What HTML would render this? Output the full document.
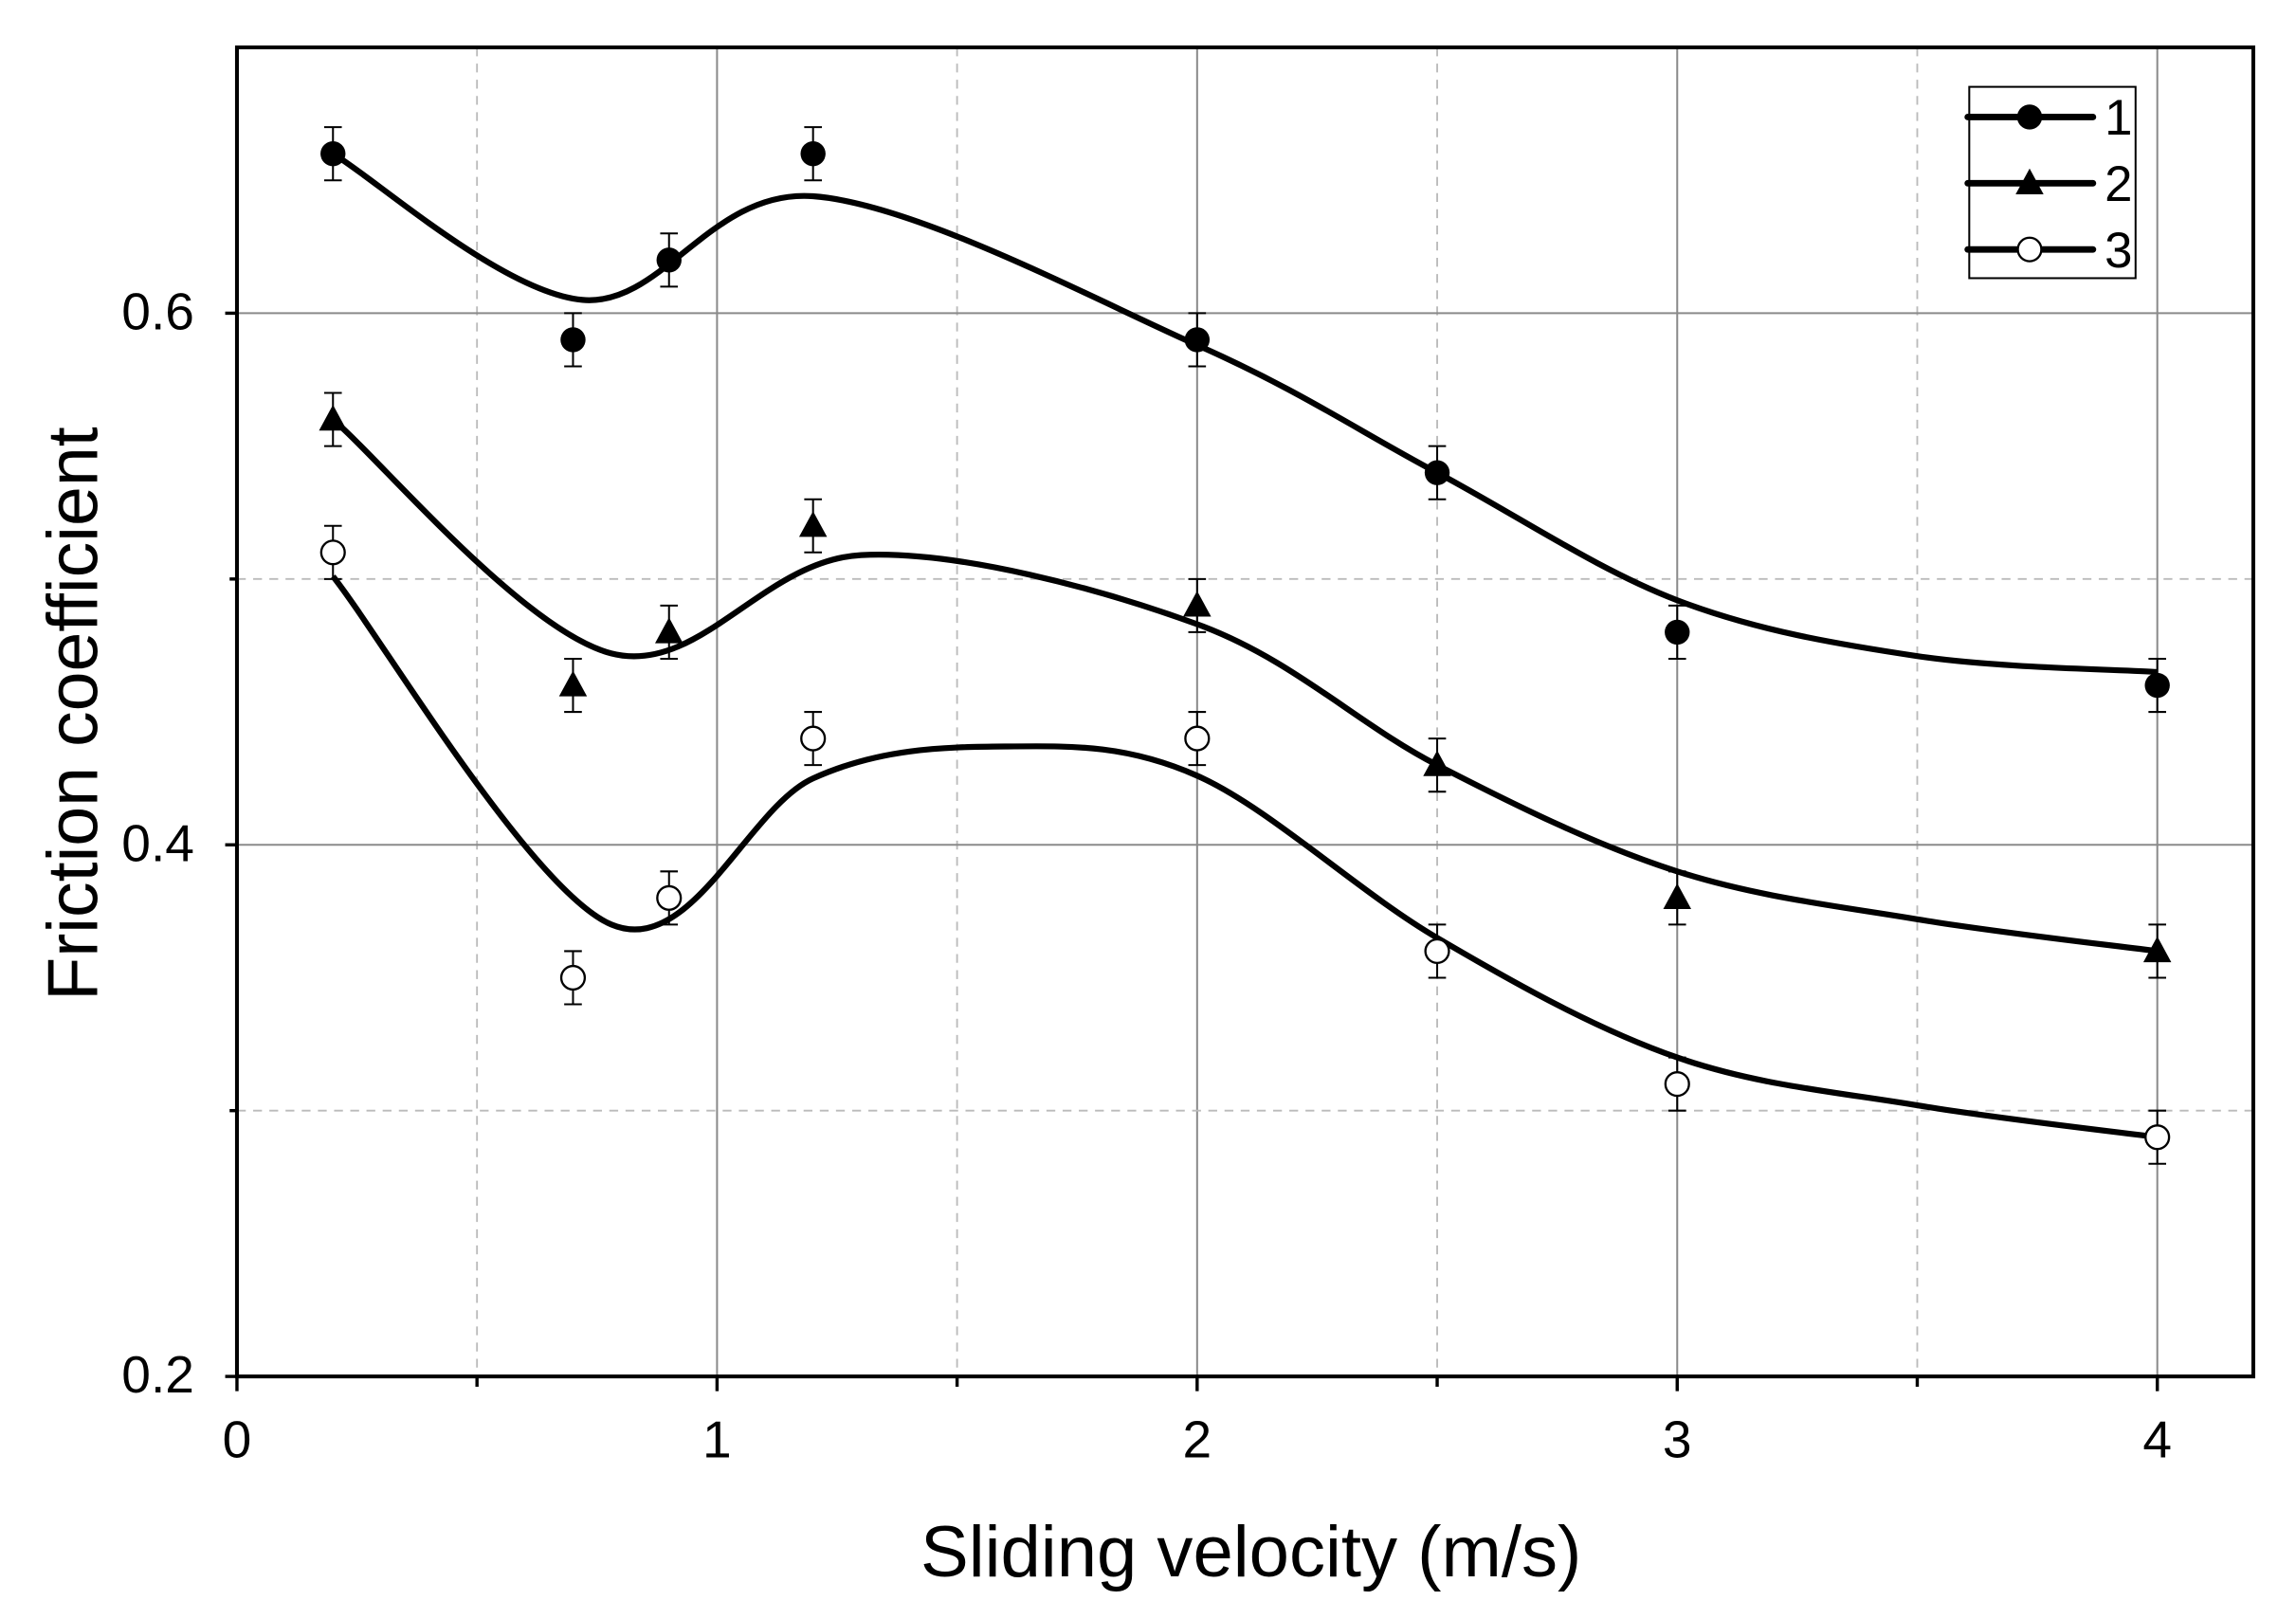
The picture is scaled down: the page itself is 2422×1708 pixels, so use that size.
<!DOCTYPE html>
<html><head><meta charset="utf-8"><style>
html,body{margin:0;padding:0;background:#fff;}
svg{display:block;font-family:"Liberation Sans",Arial,sans-serif;}
</style></head><body>
<svg id="chart" width="2422" height="1708" viewBox="0 0 1560 1100" preserveAspectRatio="none" xmlns="http://www.w3.org/2000/svg">
<g id="grid"></g>
<g id="curves"></g>
<g id="points"></g>
<g id="axes"></g>
<text x="850" y="1071" font-size="49" text-anchor="middle">Sliding velocity (m/s)</text>
<text transform="translate(66,485) rotate(-90)" font-size="48.5" text-anchor="middle">Friction coefficient</text>
<g id="legend"></g>
</svg>
<script>
const xVals = [0.2, 0.7, 0.9, 1.2, 2, 2.5, 3, 4];
const series1 = [0.66, 0.59, 0.62, 0.66, 0.59, 0.54, 0.48, 0.46];
const series2 = [0.56, 0.46, 0.48, 0.52, 0.49, 0.43, 0.38, 0.36];
const series3 = [0.51, 0.35, 0.38, 0.44, 0.44, 0.36, 0.31, 0.29];
const errVal = 0.01;
const fit1X = [0.2, 0.72, 1.2, 2, 2.5, 3, 3.5, 4];
const fit1Y = [0.66, 0.605, 0.644, 0.588, 0.54, 0.492, 0.471, 0.465];
const fit2X = [0.2, 0.78, 1.3, 2, 2.5, 3, 3.5, 4];
const fit2Y = [0.56, 0.472, 0.509, 0.483, 0.43, 0.39, 0.372, 0.36];
const fit3X = [0.2, 0.78, 1.2, 1.6, 2, 2.5, 3, 3.5, 4];
const fit3Y = [0.501, 0.37, 0.425, 0.437, 0.426, 0.365, 0.32, 0.302, 0.29];
const xTicks = [0, 1, 2, 3, 4];
const xMinor = [0.5, 1.5, 2.5, 3.5];
const yTicks = [0.2, 0.4, 0.6];
const yMinor = [0.3, 0.5];
const legendLabels = ["1", "2", "3"];

const L=161,R=1531,T=32.2,B=935.2,XMAX=4.2,YMIN=0.2,YMAX=0.7;
const sx=v=>L+(v/XMAX)*(R-L);
const sy=v=>B-(v-YMIN)/(YMAX-YMIN)*(B-T);
const NS="http://www.w3.org/2000/svg";
function mk(tag,attrs,parent){const e=document.createElementNS(NS,tag);for(const k in attrs)e.setAttribute(k,attrs[k]);parent.appendChild(e);return e;}
const grid=document.getElementById('grid'),axes=document.getElementById('axes'),curves=document.getElementById('curves'),points=document.getElementById('points'),legend=document.getElementById('legend');

xTicks.slice(1).forEach(v=>{const l=mk('line',{x1:sx(v),x2:sx(v),y1:T,y2:B,stroke:'#8a8a8a','stroke-width':1.3},grid);

});
xMinor.forEach(v=>{const l=mk('line',{x1:sx(v),x2:sx(v),y1:T,y2:B,stroke:'#bbb','stroke-width':1.2,'stroke-dasharray':'6,5'},grid);

});
yTicks.slice(1).forEach(v=>{const l=mk('line',{x1:L,x2:R,y1:sy(v),y2:sy(v),stroke:'#8a8a8a','stroke-width':1.3},grid);

});
yMinor.forEach(v=>{const l=mk('line',{x1:L,x2:R,y1:sy(v),y2:sy(v),stroke:'#bbb','stroke-width':1.2,'stroke-dasharray':'6,5'},grid);

});

const frame=mk('rect',{x:L,y:T,width:R-L,height:B-T,fill:'none',stroke:'#000','stroke-width':2.6},axes);


xTicks.forEach(v=>{mk('line',{x1:sx(v),x2:sx(v),y1:B,y2:B+10,stroke:'#000','stroke-width':2.2},axes);});
xMinor.forEach(v=>{mk('line',{x1:sx(v),x2:sx(v),y1:B,y2:B+7,stroke:'#000','stroke-width':2.2},axes);});
xTicks.forEach(v=>{const t=mk('text',{x:sx(v),y:B+55,'font-size':35.5,'text-anchor':'middle'},axes);t.textContent=String(v);

});
yTicks.forEach(v=>{mk('line',{x1:L-8,x2:L,y1:sy(v),y2:sy(v),stroke:'#000','stroke-width':2.2},axes);
const t=mk('text',{x:132,y:sy(v)+11,'font-size':35.5,'text-anchor':'end'},axes);t.textContent=v.toFixed(1);

});
yMinor.forEach(v=>{mk('line',{x1:L-5,x2:L,y1:sy(v),y2:sy(v),stroke:'#000','stroke-width':2.2},axes);});

function smoothPath(xs,ys){const p=xs.map((x,i)=>[sx(x),sy(ys[i])]);let d='M'+p[0][0]+','+p[0][1];
for(let i=0;i<p.length-1;i++){const p0=p[i-1]||p[i],p1=p[i],p2=p[i+1],p3=p[i+2]||p2;
const c1=[p1[0]+(p2[0]-p0[0])/6,p1[1]+(p2[1]-p0[1])/6],c2=[p2[0]-(p3[0]-p1[0])/6,p2[1]-(p3[1]-p1[1])/6];
d+=' C'+c1+' '+c2+' '+p2;}return d;}
[[fit1X,fit1Y],[fit2X,fit2Y],[fit3X,fit3Y]].forEach((f,i)=>{const c=mk('path',{d:smoothPath(f[0],f[1]),fill:'none',stroke:'#000','stroke-width':4},curves);

});

function marker(type,x,y,parent){
 if(type===1)return mk('circle',{cx:x,cy:y,r:8.5,fill:'#000'},parent);
 if(type===2)return mk('polygon',{points:`${x},${y-10} ${x-9.5},${y+7.5} ${x+9.5},${y+7.5}`,fill:'#000'},parent);
 return mk('circle',{cx:x,cy:y,r:8,fill:'#fff',stroke:'#000','stroke-width':1.5},parent);}
[series1,series2,series3].forEach((s,si)=>{s.forEach((v,i)=>{const x=sx(xVals[i]);
const eb=mk('path',{d:`M${x},${sy(v+errVal)}V${sy(v-errVal)}M${x-6},${sy(v+errVal)}H${x+6}M${x-6},${sy(v-errVal)}H${x+6}`,stroke:'#000','stroke-width':1.3,fill:'none'},points);


const m=marker(si+1,x,sy(v),points);

});});

const lb=mk('rect',{x:1338,y:59,width:113,height:130,fill:'#fff',stroke:'#000','stroke-width':1.3},legend);


legendLabels.forEach((lab,i)=>{const y=79.5+i*45;
mk('line',{x1:1337,x2:1422,y1:y,y2:y,stroke:'#000','stroke-width':4.5,'stroke-linecap':'round'},legend);
const m=marker(i+1,1379,y,legend);


const t=mk('text',{x:1430,y:y+12,'font-size':34},legend);t.textContent=lab;

});
</script>
</body></html>
